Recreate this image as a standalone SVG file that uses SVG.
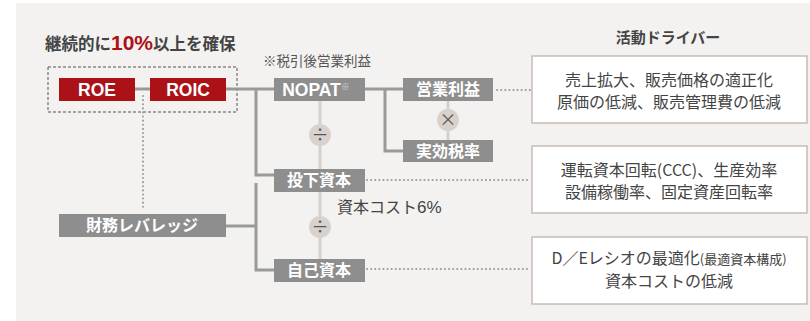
<svg xmlns="http://www.w3.org/2000/svg" width="810" height="321" viewBox="0 0 810 321">
<style>
text{font-family:"Liberation Sans","Noto Sans CJK JP",sans-serif}
.red{fill:#ac1118}
.gray{fill:#8e8e8e}
.lbl{fill:#fff;font-weight:bold;font-size:17.5px;text-anchor:middle}
.jl{fill:#fff;font-weight:bold;font-size:16px;text-anchor:middle;font-family:"Noto Sans CJK JP",sans-serif}
.line{stroke:#9a9a9a;stroke-width:3;fill:none}
.light{stroke:#d8d0ca;stroke-width:3;fill:none}
.dot{stroke:#9a9a9a;stroke-width:2;stroke-dasharray:0.1 4;stroke-linecap:round;fill:none}
.circ{fill:#d9d1cc}
.op{fill:#555;font-size:17px;text-anchor:middle;font-family:"Noto Sans CJK JP",sans-serif}
.drv{fill:#fff;stroke:#c6bcb5;stroke-width:1.5}
.dt{fill:#444;font-size:16px;text-anchor:middle;font-family:"Noto Sans CJK JP",sans-serif}
</style>
<rect x="16" y="3" width="794" height="318" fill="#f3f2f0"/>
<text x="45" y="50" font-size="16.5" font-weight="bold" fill="#444" font-family="Noto Sans CJK JP, sans-serif">継続的に<tspan fill="#ac1118" font-size="21" font-family="Liberation Sans, sans-serif">10%</tspan>以上を確保</text>
<text x="263" y="66" font-size="13.5" fill="#555" font-family="Noto Sans CJK JP, sans-serif">※税引後営業利益</text>
<text x="668" y="43" font-size="15" font-weight="bold" fill="#444" text-anchor="middle" font-family="Noto Sans CJK JP, sans-serif">活動ドライバー</text>
<text x="337" y="213" font-size="16" fill="#444" font-family="Noto Sans CJK JP, sans-serif">資本コスト<tspan font-family="Liberation Sans, sans-serif" font-size="17">6%</tspan></text>
<rect x="48" y="67" width="189" height="45" fill="none" stroke="#555" stroke-width="1" stroke-dasharray="3 2"/>
<g id="connectors">
<path class="line" d="M135 89H150M226 89H274M256 89V175H274M226 226H256M256 183V270H274M365 89H403M385 89V151H403"/>
<path class="light" d="M320 101V169M320 192V259M448 101V140"/>
<path class="dot" d="M143 96V209M497 90H531M367 180H531M367 269H531"/>
<circle class="circ" cx="320" cy="135" r="11"/>
<circle class="circ" cx="320" cy="227" r="11"/>
<circle class="circ" cx="448" cy="120" r="11"/>
<text class="op" x="320" y="141">÷</text>
<text class="op" x="320" y="233">÷</text>
<text class="op" x="448" y="126">×</text>
</g>
<g id="roe"><rect class="red" x="59" y="78" width="76" height="23"/><text class="lbl" x="97" y="96">ROE</text></g>
<g id="roic"><rect class="red" x="150" y="78" width="76" height="23"/><text class="lbl" x="188" y="96">ROIC</text></g>
<g id="nopat"><rect class="gray" x="274" y="78" width="91" height="23"/><text class="lbl" x="316" y="96">NOPAT<tspan font-size="9" dy="-6" font-weight="normal" fill="#ddd">※</tspan></text></g>
<g id="eigyo"><rect class="gray" x="403" y="78" width="90" height="23"/><text class="jl" x="448" y="95">営業利益</text></g>
<g id="jikko"><rect class="gray" x="403" y="140" width="90" height="22"/><text class="jl" x="448" y="157">実効税率</text></g>
<g id="toka"><rect class="gray" x="274" y="169" width="91" height="23"/><text class="jl" x="319" y="186">投下資本</text></g>
<g id="jiko"><rect class="gray" x="274" y="259" width="91" height="23"/><text class="jl" x="319" y="276">自己資本</text></g>
<g id="zaimu"><rect class="gray" x="59" y="214" width="167" height="23"/><text class="jl" x="142" y="231">財務レバレッジ</text></g>
<g id="drv1"><rect class="drv" x="532" y="56" width="275" height="67"/><text class="dt" x="669" y="86">売上拡大、販売価格の適正化</text><text class="dt" x="669" y="108">原価の低減、販売管理費の低減</text></g>
<g id="drv2"><rect class="drv" x="532" y="146" width="275" height="67"/><text class="dt" x="669" y="176">運転資本回転(CCC)、生産効率</text><text class="dt" x="669" y="198">設備稼働率、固定資産回転率</text></g>
<g id="drv3"><rect class="drv" x="532" y="237" width="275" height="67"/><text class="dt" x="669" y="264">D／Eレシオの最適化<tspan font-size="13">(最適資本構成)</tspan></text><text class="dt" x="669" y="287">資本コストの低減</text></g>
</svg>
